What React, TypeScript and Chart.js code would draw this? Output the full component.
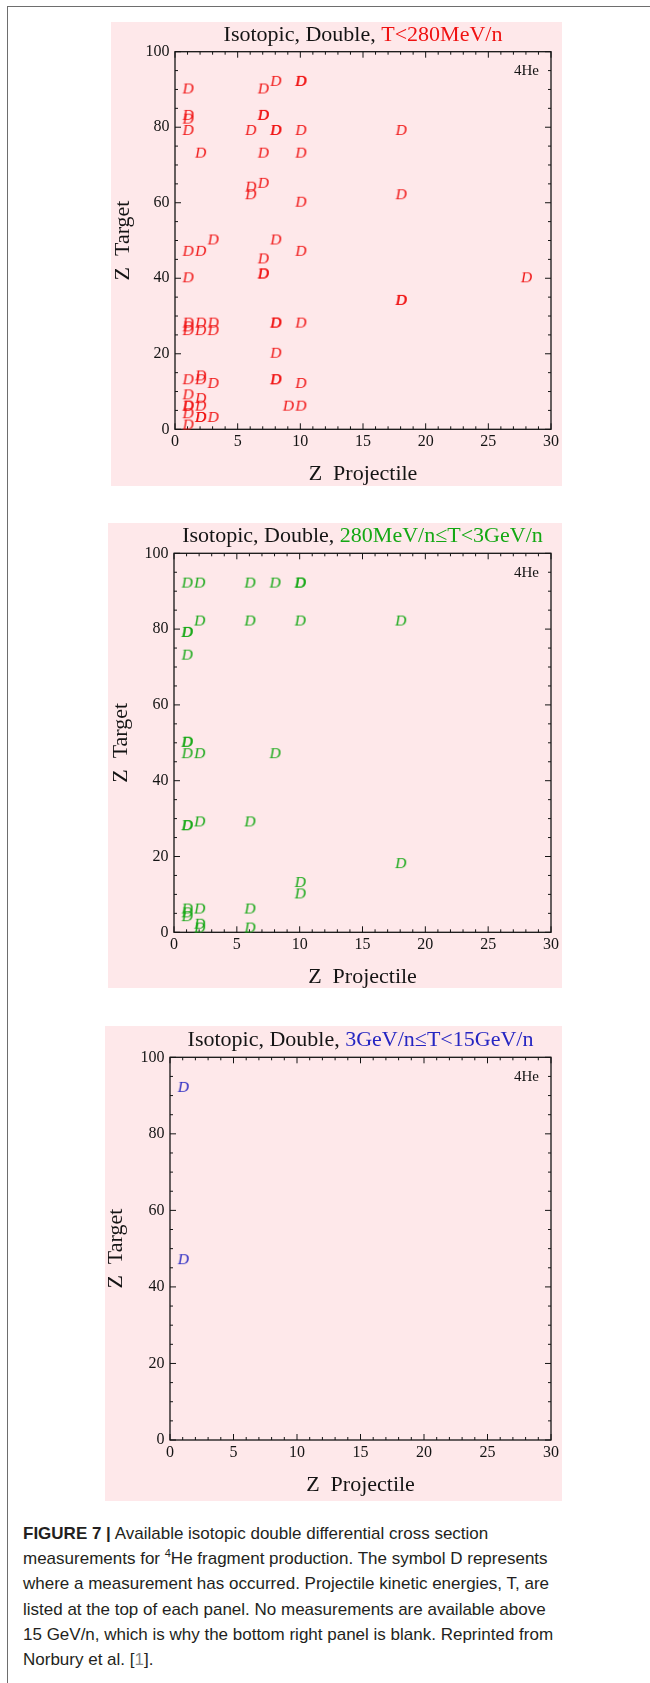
import React, { useEffect, useRef } from "react";
import { Chart, registerables } from "chart.js";

Chart.register(...registerables);

// ---------------- data ----------------
const titlePrefix = "Isotopic, Double, ";
const energyLabels = ["T<280MeV/n", "280MeV/n≤T<3GeV/n", "3GeV/n≤T<15GeV/n"];
const fragmentLabel = "4He";
const markerText = "D";
const xAxisTitle = "Z  Projectile";
const yAxisTitle = "Z  Target";
const xTickValues = [0, 5, 10, 15, 20, 25, 30];
const yTickValues = [0, 20, 40, 60, 80, 100];

// T < 280 MeV/n
const lowZp = [1, 7, 8, 10, 10, 1, 1, 7, 7, 1, 6, 8, 8, 10, 18, 2, 7, 10, 6, 6, 7, 18, 10, 3, 8, 1, 2, 10, 7, 7, 7, 1, 28, 18, 18, 1, 1, 1, 2, 2, 3, 3, 8, 8, 10, 8, 1, 2, 2, 3, 8, 8, 10, 1, 2, 1, 1, 2, 9, 10, 1, 2, 2, 3, 1];
const lowZt = [90, 90, 92, 92, 92, 83, 82, 83, 83, 79, 79, 79, 79, 79, 79, 73, 73, 73, 64, 62, 65, 62, 60, 50, 50, 47, 47, 47, 45, 41, 41, 40, 40, 34, 34, 28, 27, 26, 28, 26, 28, 26, 28, 28, 28, 20, 13, 14, 13, 12, 13, 13, 12, 9, 8, 6, 6, 6, 6, 6, 4, 3, 3, 3, 1];

// 280 MeV/n <= T < 3 GeV/n
const midZp = [1, 2, 6, 8, 10, 10, 2, 6, 10, 18, 1, 1, 1, 1, 1, 1, 2, 8, 1, 1, 2, 6, 18, 10, 10, 1, 1, 1, 2, 6, 2, 2, 6];
const midZt = [92, 92, 92, 92, 92, 92, 82, 82, 82, 82, 79, 79, 73, 50, 50, 47, 47, 47, 28, 28, 29, 29, 18, 13, 10, 6, 5, 4, 6, 6, 2, 1, 1];

// 3 GeV/n <= T < 15 GeV/n
const highZp = [1, 1];
const highZt = [92, 47];

// ---------------- styles ----------------
const INK = "#141414";
const PINK = "#fee8ea";
const RED = "#f01212";
const GREEN = "#14a814";
const BLUE = "#2626c2";
const SERIF = '"Liberation Serif", "Times New Roman", Times, serif';
const SANS = '"Liberation Sans", Arial, Helvetica, sans-serif';

type Rect = { x: number; y: number; w: number; h: number };
type Box = { l: number; t: number; r: number; b: number };
interface PanelProps {
  zp: number[];
  zt: number[];
  color: string;
  energy: string;
  pink: Rect;
  plot: Box;
  yTitleCx: number;
  xTitleCy: number;
}

function makeGlyph(color: string): HTMLCanvasElement {
  const c = document.createElement("canvas");
  c.width = 24;
  c.height = 20;
  const g = c.getContext("2d")!;
  g.font = `italic 15.5px ${SERIF}`;
  g.fillStyle = color;
  const m = g.measureText(markerText);
  const bw = m.actualBoundingBoxLeft + m.actualBoundingBoxRight;
  const bh = m.actualBoundingBoxAscent + m.actualBoundingBoxDescent;
  const x = (c.width - bw) / 2 + m.actualBoundingBoxLeft;
  const y = (c.height - bh) / 2 + m.actualBoundingBoxAscent - 1;
  g.fillText(markerText, x, y);
  return c;
}

function Panel(p: PanelProps) {
  const ref = useRef<HTMLCanvasElement>(null);
  const cx = p.pink.x - 12;
  const cy = p.pink.y;
  const cw = p.pink.w + 12;
  const ch = p.pink.h + 15;

  useEffect(() => {
    const canvas = ref.current!;
    const glyph = makeGlyph(p.color);
    const points = p.zp.map((x, i) => ({ x, y: p.zt[i] }));
    const yAxisW = p.plot.l - cx;
    const xAxisH = cy + ch - p.plot.b;
    const padTop = p.plot.t - cy;
    const padRight = cx + cw - p.plot.r;
    const yTitlePad = p.yTitleCx - cx - 11;
    const xTitlePad = ch - 11 - (p.xTitleCy - cy);

    const decor = {
      id: "decor",
      beforeDatasetsDraw(chart: any) {
        const { ctx, chartArea: a, scales } = chart;
        const xs = scales.x;
        const ys = scales.y;
        ctx.save();
        ctx.strokeStyle = INK;
        ctx.lineWidth = 1.3;
        ctx.strokeRect(a.left, a.top, a.right - a.left, a.bottom - a.top);
        ctx.beginPath();
        for (let v = 0; v <= 30; v++) {
          const px = xs.getPixelForValue(v);
          const len = v % 5 === 0 ? 6 : 3;
          ctx.moveTo(px, a.bottom);
          ctx.lineTo(px, a.bottom - len);
          ctx.moveTo(px, a.top);
          ctx.lineTo(px, a.top + len);
        }
        for (let v = 0; v <= 100; v += 5) {
          const py = ys.getPixelForValue(v);
          const len = v % 20 === 0 ? 6 : 3;
          ctx.moveTo(a.left, py);
          ctx.lineTo(a.left + len, py);
          ctx.moveTo(a.right, py);
          ctx.lineTo(a.right - len, py);
        }
        ctx.lineWidth = 1;
        ctx.stroke();
        ctx.restore();
      },
      afterDraw(chart: any) {
        const { ctx, chartArea: a } = chart;
        ctx.save();
        ctx.font = `15px ${SERIF}`;
        ctx.fillStyle = INK;
        ctx.textAlign = "right";
        ctx.textBaseline = "alphabetic";
        ctx.fillText(fragmentLabel, a.right - 12, a.top + 23.5);
        ctx.font = `22px ${SERIF}`;
        ctx.textAlign = "left";
        const w1 = ctx.measureText(titlePrefix).width;
        const w2 = ctx.measureText(p.energy).width;
        const sx = (a.left + a.right) / 2 - (w1 + w2) / 2;
        const by = a.top - 11.1;
        ctx.fillText(titlePrefix, sx, by);
        ctx.fillStyle = p.color;
        ctx.fillText(p.energy, sx + w1, by);
        ctx.restore();
      },
    };

    const chart = new Chart(canvas, {
      type: "scatter",
      data: {
        datasets: [
          {
            data: points,
            pointStyle: glyph as any,
            pointRadius: 8,
            clip: false as any,
            backgroundColor: p.color,
            borderColor: p.color,
          },
        ],
      },
      options: {
        animation: false,
        responsive: false,
        devicePixelRatio: 1,
        events: [],
        layout: { padding: { left: 0, top: padTop, right: padRight, bottom: 0 } },
        plugins: {
          legend: { display: false },
          tooltip: { enabled: false },
          title: { display: false },
        },
        scales: {
          x: {
            type: "linear",
            position: "bottom",
            min: 0,
            max: 30,
            afterBuildTicks: (s: any) => {
              s.ticks = xTickValues.map((v) => ({ value: v }));
            },
            afterFit: (s: any) => {
              s.height = xAxisH;
            },
            ticks: {
              padding: 3,
              color: INK,
              font: { family: SERIF, size: 16 },
              maxRotation: 0,
              autoSkip: false,
            },
            grid: { display: false, drawTicks: false },
            border: { display: false },
            title: {
              display: true,
              text: xAxisTitle,
              color: INK,
              font: { family: SERIF, size: 22, lineHeight: 1 },
              padding: { top: 0, bottom: xTitlePad },
            },
          },
          y: {
            type: "linear",
            position: "left",
            min: 0,
            max: 100,
            afterBuildTicks: (s: any) => {
              s.ticks = yTickValues.map((v) => ({ value: v }));
            },
            afterFit: (s: any) => {
              s.width = yAxisW;
            },
            ticks: {
              padding: 5.5,
              color: INK,
              font: { family: SERIF, size: 16 },
              autoSkip: false,
            },
            grid: { display: false, drawTicks: false },
            border: { display: false },
            title: {
              display: true,
              text: yAxisTitle,
              color: INK,
              font: { family: SERIF, size: 22, lineHeight: 1 },
              padding: { top: yTitlePad, bottom: 0 },
            },
          },
        },
      } as any,
      plugins: [decor],
    });
    return () => chart.destroy();
  }, []);

  return (
    <>
      <div
        style={{
          position: "absolute",
          left: p.pink.x,
          top: p.pink.y,
          width: p.pink.w,
          height: p.pink.h,
          background: PINK,
        }}
      />
      <canvas
        ref={ref}
        width={cw}
        height={ch}
        style={{ position: "absolute", left: cx, top: cy, width: cw, height: ch }}
      />
    </>
  );
}

export default function App() {
  return (
    <div
      style={{
        position: "absolute",
        left: 0,
        top: 0,
        width: 650,
        height: 1683,
        overflow: "hidden",
        background: "#fff",
      }}
    >
      <div
        style={{
          position: "absolute",
          left: 7,
          top: 6,
          width: 650,
          height: 1690,
          borderLeft: "1.5px solid #6e6e6e",
          borderTop: "1.5px solid #6e6e6e",
        }}
      />
      <Panel
        zp={lowZp}
        zt={lowZt}
        color={RED}
        energy={energyLabels[0]}
        pink={{ x: 111, y: 22, w: 451, h: 464 }}
        plot={{ l: 175, t: 51.7, r: 553.3, b: 429.3 }}
        yTitleCx={123}
        xTitleCy={474}
      />
      <Panel
        zp={midZp}
        zt={midZt}
        color={GREEN}
        energy={energyLabels[1]}
        pink={{ x: 108, y: 523, w: 454, h: 465 }}
        plot={{ l: 174, t: 553.3, r: 553.3, b: 932.3 }}
        yTitleCx={121}
        xTitleCy={977}
      />
      <Panel
        zp={highZp}
        zt={highZt}
        color={BLUE}
        energy={energyLabels[2]}
        pink={{ x: 105, y: 1026, w: 457, h: 475 }}
        plot={{ l: 170, t: 1057.3, r: 553.3, b: 1440 }}
        yTitleCx={116}
        xTitleCy={1485}
      />
      <div
        style={{
          position: "absolute",
          left: 23,
          top: 1521,
          font: `17px ${SANS}`,
          lineHeight: "25.2px",
          color: "#231f20",
          whiteSpace: "nowrap",
        }}
      >
        <b>FIGURE 7 |</b> Available isotopic double differential cross section
        <br />
        measurements for{" "}
        <sup style={{ fontSize: 11, lineHeight: 0 }}>4</sup>He fragment production. The symbol D represents
        <br />
        where a measurement has occurred. Projectile kinetic energies, T, are
        <br />
        listed at the top of each panel. No measurements are available above
        <br />
        15 GeV/n, which is why the bottom right panel is blank. Reprinted from
        <br />
        Norbury et al. [<span style={{ color: "#8a8a8a" }}>1</span>].
      </div>
    </div>
  );
}
